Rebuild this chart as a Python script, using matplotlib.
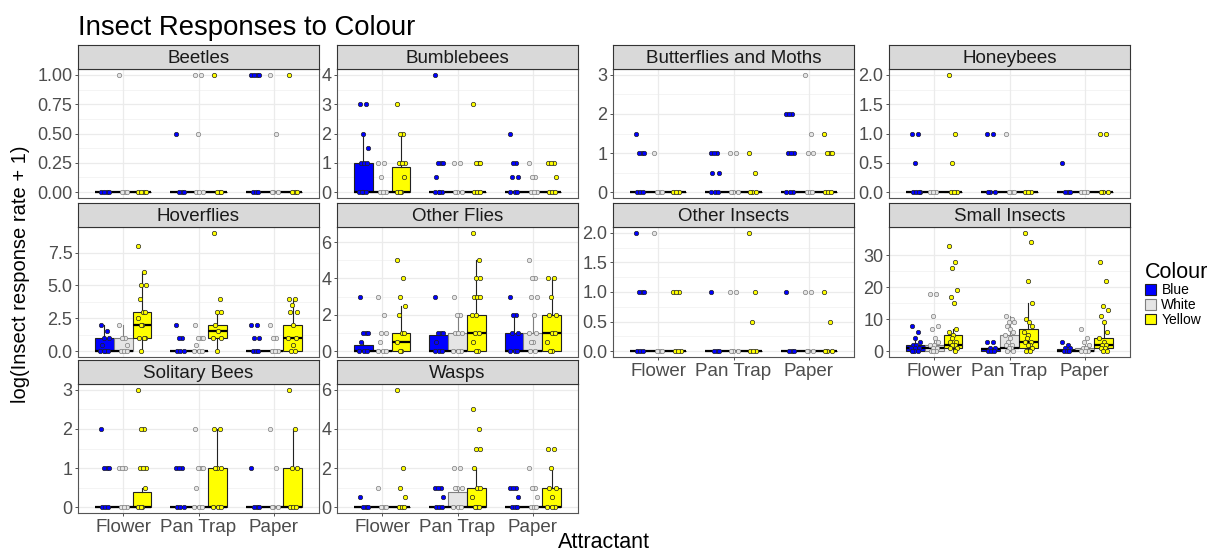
import matplotlib
matplotlib.use("Agg")
import matplotlib.pyplot as plt
from matplotlib.patches import Patch

plt.rcParams['font.family'] = ['Liberation Sans', 'DejaVu Sans']

attractants = ['Flower', 'Pan Trap', 'Paper']
colours = ['Blue', 'White', 'Yellow']
fills = ['#0000ff', '#e5e5e5', '#ffff00']
edges = ['#222222', '#7f7f7f', '#222222']

# box stats per group: (lower whisker, q1, median, q3, upper whisker)
# group order: Flower B/W/Y, Pan Trap B/W/Y, Paper B/W/Y
FLAT = (0, 0, 0, 0, 0)

beetles_box = [FLAT] * 9
beetles_pts = [[0, 0, 0, 0], [1, 0, 0, 0], [0, 0, 0, 0],
               [0.5, 0, 0, 0], [1, 1, 0.5, 0, 0, 0], [1, 0, 0, 0],
               [1, 1, 1, 1, 0, 0, 0], [1, 0.5, 0, 0, 0], [1, 0, 0, 0]]
beetles_ticks = [0, 0.25, 0.5, 0.75, 1.0]

bumblebees_box = [(0, 0, 0, 1, 2), FLAT, (0, 0, 0, 0.87, 2),
                  FLAT, FLAT, FLAT, FLAT, FLAT, FLAT]
bumblebees_pts = [[3, 3, 2, 1.5, 1, 1, 1, 0, 0, 0, 0], [1, 1, 0.5, 0, 0, 0],
                  [3, 2, 2, 1, 1, 1, 0.5, 0, 0, 0],
                  [4, 1, 1, 1, 0.5, 0, 0, 0, 0], [1, 1, 0, 0, 0], [3, 1, 1, 1, 0, 0, 0],
                  [2, 1, 1, 0.5, 0.5, 0, 0, 0], [1, 0.5, 0.5, 0, 0, 0], [1, 1, 1, 0.5, 0, 0, 0]]
bumblebees_ticks = [0, 1, 2, 3, 4]

butterflies_box = [FLAT] * 9
butterflies_pts = [[1.5, 1, 1, 1, 0, 0, 0], [1, 0, 0, 0], [0, 0, 0],
                   [1, 1, 1, 0.5, 0.5, 0, 0, 0], [1, 1, 0, 0, 0], [1, 0.5, 0, 0, 0],
                   [2, 2, 2, 1, 1, 1, 0, 0, 0], [3, 1.5, 1, 1, 0, 0, 0], [1.5, 1, 1, 1, 0, 0, 0]]
butterflies_ticks = [0, 1, 2, 3]

honeybees_box = [FLAT] * 9
honeybees_pts = [[1, 1, 0.5, 0, 0, 0, 0], [0, 0, 0], [2, 1, 0.5, 0, 0, 0],
                 [1, 1, 0, 0, 0], [1, 0, 0, 0], [0, 0, 0],
                 [0.5, 0, 0, 0], [0, 0, 0], [1, 1, 0, 0, 0]]
honeybees_ticks = [0, 0.5, 1.0, 1.5, 2.0]

hoverflies_box = [(0, 0, 0, 1, 2), (0, 0, 0, 1, 2), (0, 1, 2, 3, 6),
                  FLAT, FLAT, (0, 1, 1.5, 2, 3),
                  FLAT, FLAT, (0, 0, 1, 2, 4)]
hoverflies_pts = [[2, 1.5, 1, 1, 0.5, 0, 0, 0, 0], [2, 1, 1, 0.5, 0, 0, 0],
                  [8, 6, 5, 5, 4, 3, 3, 2.5, 2, 2, 1, 1, 1, 0],
                  [2, 1, 1, 0, 0, 0], [2, 1, 1, 1, 0.5, 0, 0, 0], [9, 4, 3, 3, 2, 1.5, 1, 1, 0],
                  [2, 2, 1, 1, 0, 0, 0], [2, 1, 1, 0, 0, 0], [4, 4, 3.5, 3, 3, 2, 1, 1, 0.5, 0, 0]]
hoverflies_ticks = [0, 2.5, 5.0, 7.5]

otherflies_box = [(0, 0, 0, 0.35, 0.5), FLAT, (0, 0, 0.5, 1, 2.5),
                  (0, 0, 0, 0.88, 1), (0, 0, 0, 1, 2), (0, 0, 1, 2, 5),
                  (0, 0, 0, 1, 2), (0, 0, 0, 1, 2), (0, 0, 1, 2, 4)]
otherflies_pts = [[3, 1, 1, 1, 0.5, 0, 0, 0], [3, 2, 1, 1, 0.5, 0, 0, 0],
                  [5, 4, 3, 2.5, 2, 1, 1, 0.5, 0, 0],
                  [3, 1, 1, 1, 0.5, 0, 0, 0], [3, 2, 2, 1, 1, 1, 0, 0, 0],
                  [6.5, 5, 4, 4, 3, 3, 3, 2, 2, 1, 1, 0.5, 0, 0],
                  [3, 2, 2, 1, 1, 0, 0, 0], [5, 4, 4, 3, 3, 2, 1, 1, 0.5, 0.5, 0, 0],
                  [4, 4, 3, 2, 2, 1, 1, 0.5, 0, 0]]
otherflies_ticks = [0, 2, 4, 6]

otherinsects_box = [FLAT] * 9
otherinsects_pts = [[2, 1, 1, 1, 0, 0, 0], [2, 0, 0, 0], [1, 1, 1, 0, 0, 0],
                    [1, 0, 0, 0], [1, 1, 0, 0, 0], [2, 1, 0.5, 0, 0, 0],
                    [1, 0, 0, 0], [1, 1, 0, 0, 0], [1, 0.5, 0, 0, 0]]
otherinsects_ticks = [0, 0.5, 1.0, 1.5, 2.0]

smallinsects_box = [(0, 0, 1, 2, 4), (0, 0, 1, 2, 4), (0, 1, 2, 5, 7),
                    (0, 0, 0.5, 1, 1), (0, 1, 1, 5, 11), (0, 1, 3, 7, 15),
                    (0, 0, 0, 0.5, 1), (0, 0, 0, 1, 2), (0, 1, 2, 4, 9)]
smallinsects_pts = [[8, 6, 4, 3, 2, 2, 1, 1, 1, 0, 0, 0],
                    [18, 18, 11, 8, 7, 4, 3, 2, 2, 1, 1, 0, 0, 0],
                    [33, 28, 26, 19, 17, 15, 7, 6, 5, 4, 3, 3, 2, 2, 1, 1, 0],
                    [3, 3, 1, 1, 0, 0, 0],
                    [11, 10, 9, 9, 8, 7, 6, 5, 4, 3, 2, 2, 1, 1, 0, 0],
                    [37, 34, 22, 15, 10, 9, 8, 6, 5, 4, 3, 3, 2, 2, 1, 0, 0],
                    [3, 2, 1, 1, 0, 0, 0], [7, 4, 3, 2, 1, 1, 0, 0, 0],
                    [28, 22, 14, 13, 11, 9, 6, 4, 3, 2, 2, 1, 1, 0, 0]]
smallinsects_ticks = [0, 10, 20, 30]

solitary_box = [FLAT, FLAT, (0, 0, 0, 0.4, 0.5),
                FLAT, FLAT, (0, 0, 0, 1, 2),
                FLAT, FLAT, (0, 0, 0, 1, 2)]
solitary_pts = [[2, 1, 1, 1, 0, 0, 0], [1, 1, 1, 0, 0, 0], [3, 2, 2, 1, 1, 1, 0.5, 0, 0, 0],
                [1, 1, 1, 0, 0, 0], [2, 1, 1, 1, 0.5, 0, 0, 0], [2, 2, 1, 1, 1, 0, 0, 0],
                [1, 0, 0, 0], [2, 1, 0, 0, 0], [3, 2, 1, 1, 0, 0, 0]]
solitary_ticks = [0, 1, 2, 3]

wasps_box = [FLAT, FLAT, FLAT,
             FLAT, (0, 0, 0, 0.75, 1), (0, 0, 0, 1, 2),
             FLAT, FLAT, (0, 0, 0, 1, 2)]
wasps_pts = [[0.5, 0, 0, 0], [1, 0, 0, 0], [6, 2, 1, 0.5, 0, 0, 0],
             [1, 1, 1, 0.5, 0, 0, 0], [2, 2, 1, 1, 1, 0, 0, 0], [5, 4, 3, 3, 2, 1, 1, 0.5, 0, 0, 0],
             [1, 1, 1, 0.5, 0, 0, 0], [2, 1, 1, 0.5, 0, 0, 0], [3, 3, 2, 1, 1, 0.5, 0, 0, 0]]
wasps_ticks = [0, 2, 4, 6]

# (title, boxes, points, ticks, decimals, column, row)
panels = [
    ('Beetles', beetles_box, beetles_pts, beetles_ticks, 2, 0, 0),
    ('Bumblebees', bumblebees_box, bumblebees_pts, bumblebees_ticks, 0, 1, 0),
    ('Butterflies and Moths', butterflies_box, butterflies_pts, butterflies_ticks, 0, 2, 0),
    ('Honeybees', honeybees_box, honeybees_pts, honeybees_ticks, 1, 3, 0),
    ('Hoverflies', hoverflies_box, hoverflies_pts, hoverflies_ticks, 1, 0, 1),
    ('Other Flies', otherflies_box, otherflies_pts, otherflies_ticks, 0, 1, 1),
    ('Other Insects', otherinsects_box, otherinsects_pts, otherinsects_ticks, 1, 2, 1),
    ('Small Insects', smallinsects_box, smallinsects_pts, smallinsects_ticks, 0, 3, 1),
    ('Solitary Bees', solitary_box, solitary_pts, solitary_ticks, 0, 0, 2),
    ('Wasps', wasps_box, wasps_pts, wasps_ticks, 0, 1, 2),
]

W, H = 1211, 553
col_left = [78, 337, 613, 889]
panel_w = 241
rows = [(45, 69, 198), (203, 227, 357), (360, 384, 513)]  # strip top, panel top, panel bottom
bottom_row = [2, 2, 1, 1]

jitter = [-0.05, 0.03, -0.01, 0.055, -0.03, 0.01, 0.045, -0.055, 0.0, -0.02, 0.035, -0.04, 0.02, -0.01, 0.05, -0.035, 0.025]
offsets = [-0.25, 0.0, 0.25]

fig = plt.figure(figsize=(W / 100, H / 100), dpi=100)

for title, boxes, pts, ticks, dec, c, r in panels:
    x0 = col_left[c]
    s0, p0, p1 = rows[r]
    ax = fig.add_axes([x0 / W, 1 - p1 / H, panel_w / W, (p1 - p0) / H])
    sax = fig.add_axes([x0 / W, 1 - p0 / H, panel_w / W, (p0 - s0) / H])
    sax.set_facecolor('#d9d9d9')
    sax.set_xticks([])
    sax.set_yticks([])
    for sp in sax.spines.values():
        sp.set_color('#333333')
        sp.set_linewidth(0.8)
    sax.text(0.5, 0.45, title, ha='center', va='center', fontsize=13.5, color='#1a1a1a',
             transform=sax.transAxes)

    ymax = max(max(p) for p in pts)
    ax.set_ylim(-0.05 * ymax, 1.05 * ymax)
    ax.set_xlim(0.4, 3.6)

    # grid
    for t in ticks:
        ax.axhline(t, color='#ebebeb', lw=0.9, zorder=0)
    for a, b in zip(ticks[:-1], ticks[1:]):
        ax.axhline((a + b) / 2, color='#f2f2f2', lw=0.6, zorder=0)
    for i in range(3):
        ax.axvline(i + 1, color='#ebebeb', lw=0.9, zorder=0)

    for j in range(3):
        stats = []
        for i in range(3):
            lo, q1, med, q3, hi = boxes[i * 3 + j]
            stats.append(dict(whislo=lo, q1=q1, med=med, q3=q3, whishi=hi, fliers=[]))
        res = ax.bxp(stats, positions=[i + 1 + offsets[j] for i in range(3)], widths=0.25,
                     patch_artist=True, showcaps=False, showfliers=False,
                     boxprops=dict(facecolor=fills[j], edgecolor=edges[j], linewidth=0.8),
                     whiskerprops=dict(color=edges[j], linewidth=0.8),
                     medianprops=dict(color='black', linewidth=1.6),
                     manage_ticks=False)
        for b in res['boxes']:
            b.set_zorder(2)
        for i in range(3):
            vals = pts[i * 3 + j]
            xs = [i + 1 + offsets[j] + jitter[k % len(jitter)] for k in range(len(vals))]
            ax.scatter(xs, vals, s=10, facecolor=fills[j], edgecolor=edges[j],
                       linewidths=0.5, zorder=3)

    ax.set_yticks(ticks)
    ax.set_yticklabels([f'{t:.{dec}f}' for t in ticks])
    ax.set_xticks([1, 2, 3])
    if r == bottom_row[c]:
        ax.set_xticklabels(attractants, fontsize=13.5, color='#4d4d4d')
        ax.tick_params(axis='x', length=2.5, color='#333333', width=0.6, pad=2)
    else:
        ax.set_xticklabels([])
        ax.tick_params(axis='x', length=0)
    ax.tick_params(axis='y', labelsize=13, labelcolor='#4d4d4d', length=2.5,
                   color='#333333', width=0.6, pad=1.5)
    for sp in ax.spines.values():
        sp.set_color('#555555')
        sp.set_linewidth(0.8)

fig.text(78 / W, 1 - 35 / H, 'Insect Responses to Colour', fontsize=19.8, va='baseline', ha='left')
fig.text(604 / W, 1 - 548 / H, 'Attractant', fontsize=15.5, va='baseline', ha='center')
fig.text(21 / W, 1 - 274 / H, 'log(Insect response rate + 1)', fontsize=14.5, rotation=90,
         va='center', ha='center')

handles = [Patch(facecolor=fills[j], edgecolor=edges[j], linewidth=0.8) for j in range(3)]
fig.legend(handles, colours, title='Colour', loc='upper left',
           bbox_to_anchor=(1135 / W, 1 - 252 / H), frameon=False, fontsize=10,
           title_fontsize=15.5, handlelength=0.8, handleheight=0.8, handletextpad=0.4,
           labelspacing=0.05, alignment='left', borderpad=0.2)

fig.savefig('out.png', dpi=100)
